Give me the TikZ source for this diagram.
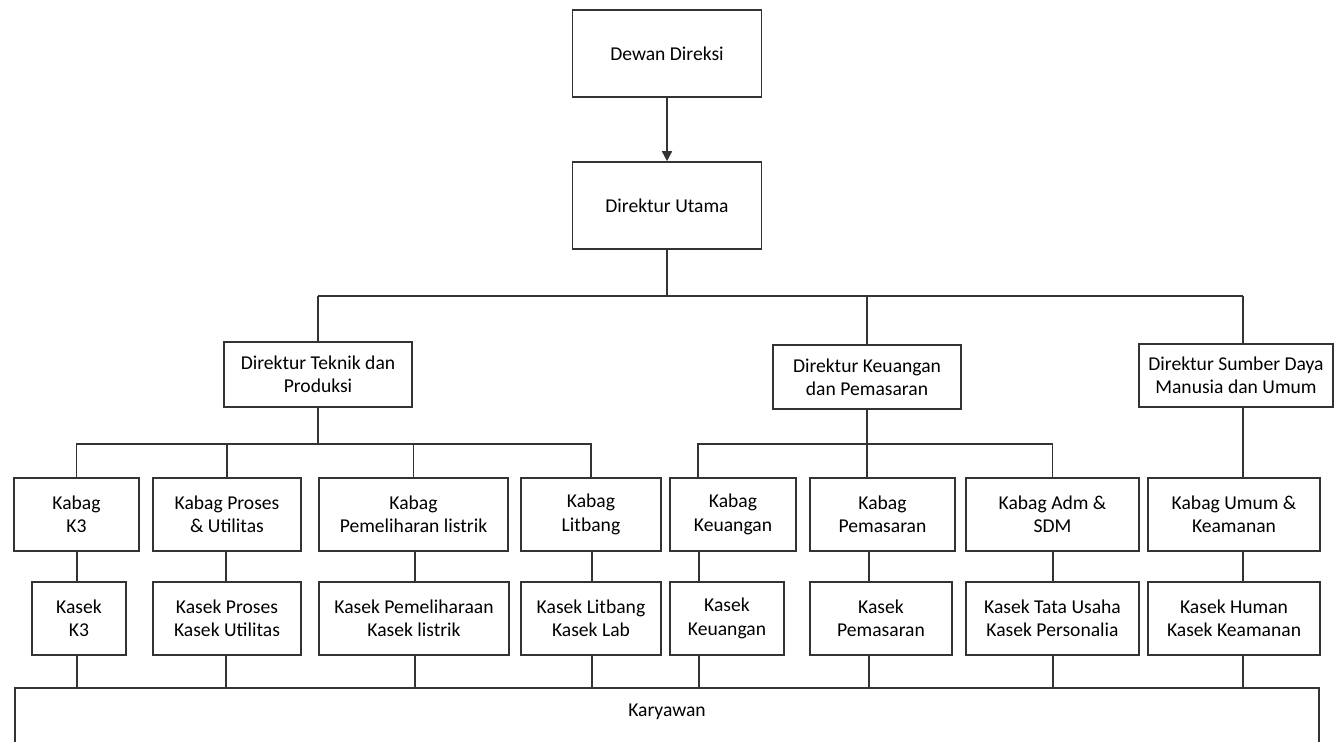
\documentclass[tikz,border=0pt]{standalone}
\usepackage{fontspec}
\setmainfont{Carlito}
\usetikzlibrary{arrows.meta}

\begin{document}
\begin{tikzpicture}[x=0.5pt,y=-0.5pt,
    txt/.style={font=\fontsize{9.8pt}{11.7pt}\selectfont},
    box/.style={txt, draw=black!80, line width=0.8pt, align=center, inner sep=0pt},
    unit/.style={box, minimum height=36.5pt},
    link/.style={draw=black!80, line width=0.8pt}]
  \useasboundingbox (0,0) rectangle (1335,742);
  \clip (0,0) rectangle (1335,742);
  % top
  \node[box, minimum width=94.5pt, minimum height=43.5pt] (dewan) at (667,53.5) {Dewan Direksi};
  \node[box, minimum width=94.5pt, minimum height=43.5pt] (utama) at (667,205.5) {Direktur Utama};
  \node[box, minimum width=94pt, minimum height=32.5pt] (teknik) at (318,374.5) {Direktur Teknik dan\\Produksi};
  \node[box, minimum width=94pt, minimum height=32pt] (keu) at (867,377) {Direktur Keuangan\\dan Pemasaran};
  \node[box, minimum width=97pt, minimum height=31.5pt] (sdm) at (1236,375.5) {Direktur Sumber Daya\\Manusia dan Umum};
  % kabag
  \node[unit, minimum width=62.5pt] (kK3) at (76.5,514.5) {Kabag\\K3};
  \node[unit, minimum width=74pt] (kProses) at (227,514.5) {Kabag Proses\\\& Utilitas};
  \node[unit, minimum width=94.5pt] (kPemel) at (413.5,514.5) {Kabag\\Pemeliharan listrik};
  \node[unit, minimum width=70pt] (kLitbang) at (591,514.5) {Kabag\\Litbang};
  \node[unit, minimum width=63pt] (kKeu) at (733,514.5) {Kabag\\Keuangan};
  \node[unit, minimum width=72.5pt] (kPemas) at (882.5,514.5) {Kabag\\Pemasaran};
  \node[unit, minimum width=86.5pt] (kAdm) at (1052.5,514.5) {Kabag Adm \&\\SDM};
  \node[unit, minimum width=86pt] (kUmum) at (1234,514.5) {Kabag Umum \&\\Keamanan};
  % kasek
  \node[unit, minimum width=47pt] (sK3) at (79,618.5) {Kasek\\K3};
  \node[unit, minimum width=74pt] (sProses) at (227,618.5) {Kasek Proses\\Kasek Utilitas};
  \node[unit, minimum width=95pt] (sPemel) at (414,618.5) {Kasek Pemeliharaan\\Kasek listrik};
  \node[unit, minimum width=70pt] (sLitbang) at (591,618.5) {Kasek Litbang\\Kasek Lab};
  \node[unit, minimum width=57pt] (sKeu) at (727,618.5) {Kasek\\Keuangan};
  \node[unit, minimum width=71pt] (sPemas) at (881,618.5) {Kasek\\Pemasaran};
  \node[unit, minimum width=86.5pt] (sTata) at (1052.5,618.5) {Kasek Tata Usaha\\Kasek Personalia};
  \node[unit, minimum width=86pt] (sHuman) at (1234,618.5) {Kasek Human\\Kasek Keamanan};
  \node[txt, draw=black!80, line width=0.8pt, anchor=north, minimum width=652pt,
    inner ysep=7.5pt, text height=7pt, text depth=40pt] (kary) at (667,687) {Karyawan};

  \draw[link, -{Triangle[length=5pt,width=5pt]}] (dewan) -- (utama);
  \coordinate (busL) at (318,296);
  \coordinate (busR) at (1243,296);
  \draw[link] (busL) -- (busR);
  \draw[link] (utama) -- (utama |- busL);
  \draw[link] (busL) -- (teknik);
  \draw[link] (keu) -- (keu |- busL);
  \draw[link] (busR) -- (busR |- sdm.north);
  \draw[link] (sdm.south -| busR) -- (kUmum.north -| busR);
  % teknik
  \coordinate (busT) at (318,444);
  \draw[link] (teknik) -- (busT);
  \draw[link] (kK3) |- (busT) -| (kLitbang);
  \foreach \n in {kProses,kPemel}
    \draw[link] (\n) -- (\n |- busT);
  % keuangan
  \coordinate (busK) at (867,444);
  \coordinate (colK) at (698,0);
  \draw[link] (keu) -- (busK);
  \draw[link] (kKeu.north -| colK) |- (busK) -| (kAdm);
  \draw[link] (kPemas.north -| busK) -- (busK);
  % kabag - kasek - karyawan
  \foreach \x/\a/\b in {77/kK3/sK3, 226/kProses/sProses, 415/kPemel/sPemel, 592/kLitbang/sLitbang,
      699/kKeu/sKeu, 869/kPemas/sPemas, 1053/kAdm/sTata, 1243/kUmum/sHuman}{
    \coordinate (c) at (\x,0);
    \draw[link] (\a.south -| c) -- (\b.north -| c);
    \draw[link] (\b.south -| c) -- (kary.north -| c);
  }
\end{tikzpicture}
\end{document}
